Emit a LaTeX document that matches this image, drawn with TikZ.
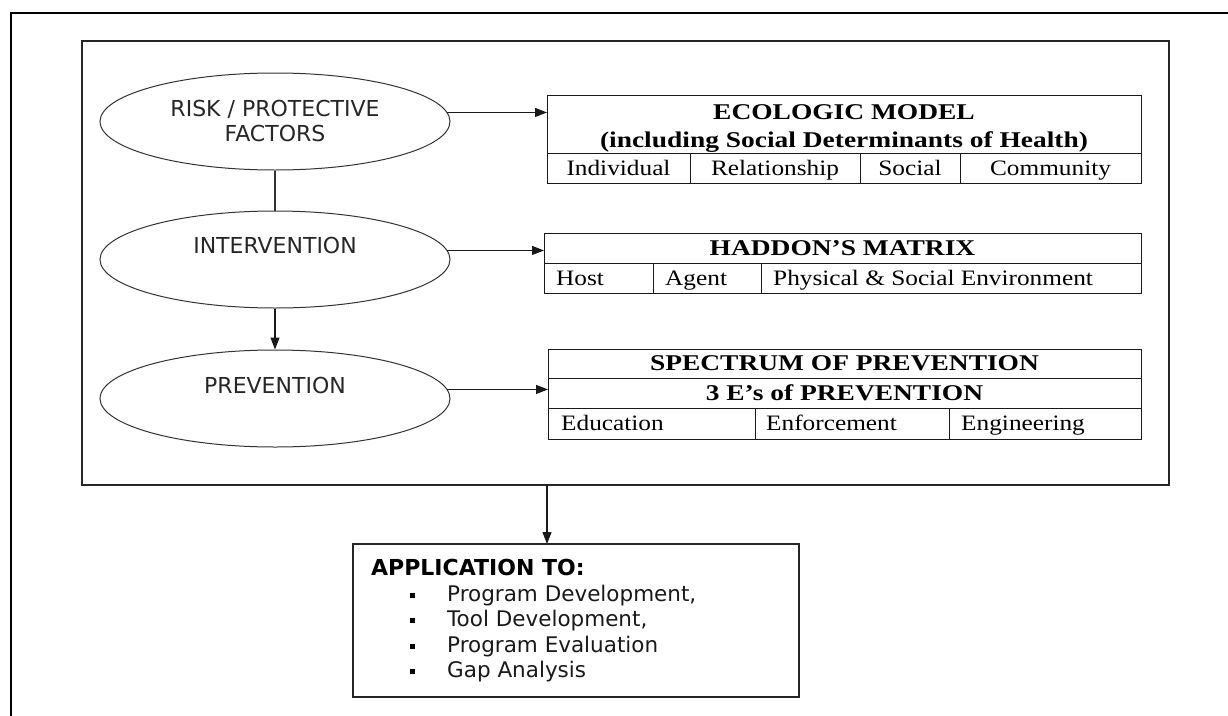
\documentclass[tikz,border=0pt]{standalone}
\usepackage{fontspec}
\setmainfont{Liberation Serif}[FakeStretch=1.15, BoldFeatures={FakeStretch=1.22}]
\newfontfamily\vsans{DejaVu Sans}
\usetikzlibrary{arrows.meta,shapes.geometric}
\begin{document}
\begin{tikzpicture}[x=1pt,y=-1pt,
  cell/.style={draw=black!90, line width=1.0pt, rectangle, inner sep=0pt, outer sep=0pt, anchor=north west},
  ttext/.style={font=\fontsize{22}{25}\selectfont, inner sep=0pt, text height=14.5pt, text depth=0pt},
  ttitle/.style={font=\fontsize{22.5}{25}\selectfont\bfseries, inner sep=0pt, text height=14.5pt, text depth=0pt},
  ell/.style={ellipse, draw=black!80, line width=1.0pt, minimum width=350pt, minimum height=97pt, inner sep=0pt},
  etext/.style={font=\vsans\fontsize{22}{25}\selectfont, text=black!85, inner sep=0pt},
  arr/.style={line width=1.2pt, draw=black!90, -{Triangle[length=12pt,width=9pt]}},
  conn/.style={line width=1.2pt, draw=black!80},
  apph/.style={font=\vsans\bfseries\fontsize{22}{25}\selectfont, inner sep=0pt, anchor=base west},
  appi/.style={font=\vsans\fontsize{21.5}{25}\selectfont, text=black!90, inner sep=0pt, anchor=base west},
  bul/.style={rectangle, fill=black, minimum size=5.5pt, inner sep=0pt},
  box/.style={draw=black!85, rectangle, inner sep=0pt, outer sep=0pt, anchor=north west}
]
\useasboundingbox (0,0) rectangle (1228,715);
% outer frame
\draw[line width=2.4pt, line join=miter] (11,740) -- (11,13) -- (1250,13);
% inner frame
\node[box, line width=1.4pt, minimum width=1087pt, minimum height=444pt] (frame) at (82,41) {};

% ellipses
\node[ell] (e1) at (275,121.5) {};
\node[ell] (e2) at (275,259.5) {};
\node[ell] (e3) at (275,398.5) {};
\node[etext, align=center] (t1) at (275,120.5) {RISK / PROTECTIVE\\FACTORS};
\node[etext] (t2) at (275,245) {INTERVENTION};
\node[etext] (t3) at (275,385) {PREVENTION};

% Ecologic model table
\node[cell, minimum width=594pt, minimum height=58pt] (ecoT) at (547,95) {};
\node[ttitle] (ecoT1) at (844,112) {ECOLOGIC MODEL};
\node[ttitle] (ecoT2) at (844,140) {(including Social Determinants of Health)};
\node[cell, minimum width=143pt, minimum height=30pt] (ecoA) at (547,153) {};
\node[cell, minimum width=170pt, minimum height=30pt] (ecoB) at (690,153) {};
\node[cell, minimum width=100pt, minimum height=30pt] (ecoC) at (860,153) {};
\node[cell, minimum width=181pt, minimum height=30pt] (ecoD) at (960,153) {};
\node[ttext] (ecoAt) at (ecoA.center) {Individual};
\node[ttext] (ecoBt) at (ecoB.center) {Relationship};
\node[ttext] (ecoCt) at (ecoC.center) {Social};
\node[ttext] (ecoDt) at (ecoD.center) {Community};

% Haddon's matrix table
\node[cell, minimum width=597pt, minimum height=30pt] (hadT) at (544,233) {};
\node[ttitle] (hadTt) at (hadT.center) {HADDON'S MATRIX};
\node[cell, minimum width=109pt, minimum height=30pt] (hadA) at (544,263) {};
\node[cell, minimum width=108pt, minimum height=30pt] (hadB) at (653,263) {};
\node[cell, minimum width=380pt, minimum height=30pt] (hadC) at (761,263) {};
\node[ttext, anchor=west, xshift=12pt] (hadAt) at (hadA.west) {Host};
\node[ttext, anchor=west, xshift=12pt] (hadBt) at (hadB.west) {Agent};
\node[ttext, anchor=west, xshift=12pt] (hadCt) at (hadC.west) {Physical \& Social Environment};

% Spectrum of prevention table
\node[cell, minimum width=593pt, minimum height=29pt] (spA) at (548,349) {};
\node[ttitle] (spAt) at (spA.center) {SPECTRUM OF PREVENTION};
\node[cell, minimum width=593pt, minimum height=30pt] (spB) at (548,378) {};
\node[ttitle] (spBt) at (spB.center) {3 E’s of PREVENTION};
\node[cell, minimum width=207pt, minimum height=31pt] (spC) at (548,408) {};
\node[cell, minimum width=194pt, minimum height=31pt] (spD) at (755,408) {};
\node[cell, minimum width=192pt, minimum height=31pt] (spE) at (949,408) {};
\node[ttext, anchor=west, xshift=13pt] (spCt) at (spC.west) {Education};
\node[ttext, anchor=west, xshift=11pt] (spDt) at (spD.west) {Enforcement};
\node[ttext, anchor=west, xshift=12pt] (spEt) at (spE.west) {Engineering};

% connectors
\draw[conn] (e1.south) -- (e2.north);
\draw[arr] (e2.south) -- (e3.north);
\draw[arr] (e1.3) -- (e1.3 -| ecoT.west);
\draw[arr] (e2.3) -- (e2.3 -| hadT.west);
\draw[arr] (e3.3) -- (e3.3 -| spB.west);

% application box
\node[box, line width=1.3pt, minimum width=446pt, minimum height=153pt] (app) at (353,544) {};
\draw[arr] (frame.south -| ecoT.west) -- (app.north -| ecoT.west);
\node[apph] (appT) at (371,575) {APPLICATION TO:};
\node[appi] (i1) at (447,601) {Program Development,};
\node[appi] (i2) at (447,626) {Tool Development,};
\node[appi] (i3) at (447,652) {Program Evaluation};
\node[appi] (i4) at (447,677) {Gap Analysis};
\node[bul] (b1) at (412.5,595.5) {};
\node[bul] (b2) at (412.5,620.5) {};
\node[bul] (b3) at (412.5,646.5) {};
\node[bul] (b4) at (412.5,671.5) {};
\end{tikzpicture}
\end{document}
